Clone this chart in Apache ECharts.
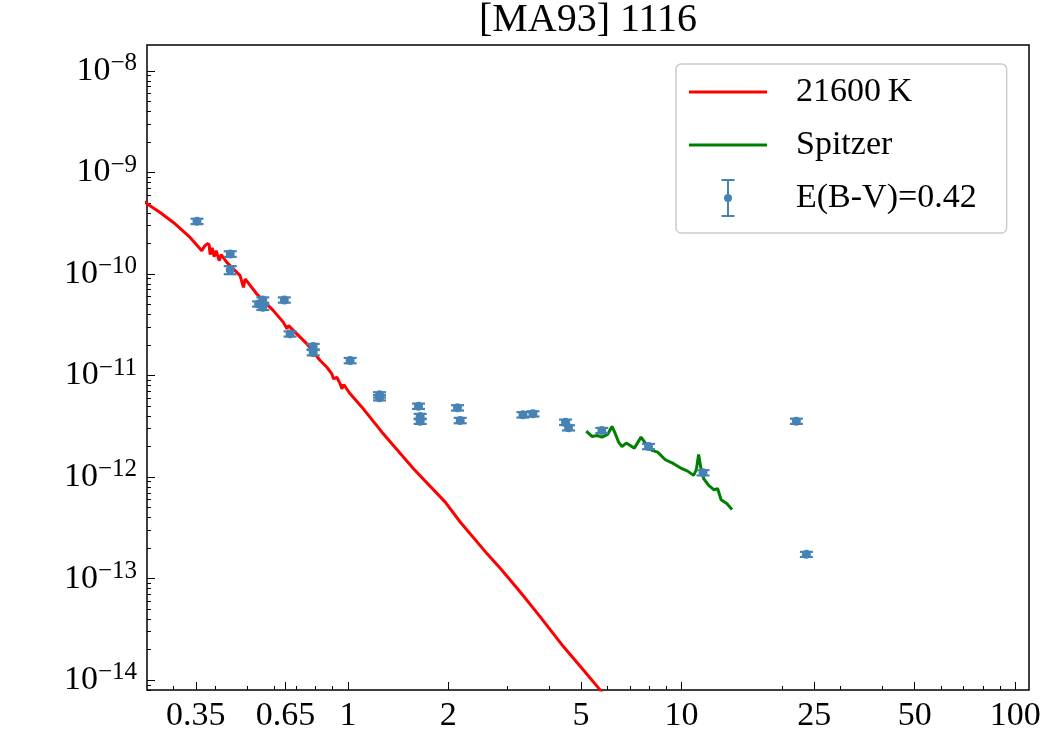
<!DOCTYPE html>
<html>
<head>
<meta charset="utf-8">
<script src="https://cdn.jsdelivr.net/npm/echarts@6/dist/echarts.min.js"></script>
<style>
  html, body { margin: 0; padding: 0; background: #fff; }
  #sed_chart { width: 1050px; height: 750px; }
</style>
</head>
<body>
<div id="sed_chart"></div>
<script>
// blackbody model, wavelength in micron
const bbWave = [0.2330, 0.2495, 0.2737, 0.3000, 0.3366, 0.3649, 0.3708, 0.3786, 0.3839, 0.3865, 0.3919,
    0.3973, 0.4029, 0.4113, 0.4170, 0.4337, 0.4754, 0.4864, 0.4921, 0.5334, 0.5981, 0.6409, 0.6566,
    0.6639, 0.7536, 0.8259, 0.8651, 0.8954, 0.9054, 0.9269, 0.9482, 0.9594, 0.9714, 1.016, 1.102,
    1.265, 1.573, 1.958, 2.171, 2.611, 2.896, 3.286, 3.772, 4.431, 5.087, 5.707, 6.55];
const bbFlux = [5.78e-10, 4.95e-10, 4.04e-10, 3.22e-10, 2.29e-10, 1.697e-10, 1.858e-10, 1.988e-10, 1.944e-10,
    1.55e-10, 1.815e-10, 1.481e-10, 1.697e-10, 1.353e-10, 1.55e-10, 1.302e-10, 9.63e-11, 7.39e-11, 8.94e-11,
    6.36e-11, 4.36e-11, 3.34e-11, 2.88e-11, 3.10e-11, 2.05e-11, 1.405e-11, 1.207e-11, 1.039e-11, 9.28e-12,
    9.62e-12, 8.29e-12, 7.40e-12, 8.16e-12, 6.61e-12, 4.88e-12, 2.77e-12, 1.209e-12, 5.67e-13, 3.61e-13,
    1.763e-13, 1.208e-13, 7.39e-14, 4.20e-14, 2.13e-14, 1.254e-14, 7.98e-15, 4.53e-15];

// Spitzer IRS spectrum
const spitzerWave = [5.182, 5.390, 5.580, 5.776, 6.003, 6.188, 6.331, 6.477, 6.631, 6.831, 7.023, 7.220,
    7.562, 7.790, 8.157, 8.480, 8.942, 9.469, 10.03, 10.43, 10.87, 11.08, 11.25, 11.44, 11.65, 12.06,
    12.49, 12.83, 13.14, 13.69, 14.17];
const spitzerFlux = [2.833e-12, 2.513e-12, 2.570e-12, 2.473e-12, 2.630e-12, 3.151e-12, 2.672e-12, 2.208e-12,
    2.003e-12, 2.158e-12, 2.049e-12, 1.928e-12, 2.473e-12, 2.158e-12, 1.830e-12, 1.761e-12, 1.482e-12,
    1.354e-12, 1.209e-12, 1.145e-12, 1.039e-12, 1.182e-12, 1.671e-12, 1.209e-12, 9.64e-13, 8.28e-13,
    7.51e-13, 7.68e-13, 5.99e-13, 5.47e-13, 4.78e-13];

// dereddened photometry
const photWave = [0.353, 0.444, 0.444, 0.540, 0.556, 0.556, 0.645, 0.671, 0.787, 0.787, 1.016, 1.244, 1.244,
    1.628, 1.647, 1.647, 2.131, 2.171, 3.347, 3.586, 4.491, 4.585, 5.77, 7.965, 11.60, 22.09, 23.67];
const photFlux = [3.30e-10, 1.575e-10, 1.095e-10, 5.07e-11, 5.55e-11, 4.70e-11, 5.55e-11, 2.57e-11, 1.93e-11,
    1.68e-11, 1.405e-11, 6.46e-12, 6.05e-12, 4.99e-12, 3.95e-12, 3.55e-12, 4.81e-12, 3.61e-12, 4.11e-12,
    4.20e-12, 3.47e-12, 3.06e-12, 2.88e-12, 2.00e-12, 1.104e-12, 3.55e-12, 1.735e-13];
const photErr = [2.0e-11, 1.0e-11, 1.0e-11, 3.0e-12, 3.3e-12, 2.8e-12, 3.3e-12, 1.5e-12, 1.2e-12, 1.0e-12,
    8.5e-13, 3.9e-13, 3.6e-13, 3.0e-13, 2.4e-13, 2.1e-13, 2.9e-13, 2.2e-13, 2.5e-13, 2.5e-13, 2.1e-13,
    1.8e-13, 1.7e-13, 1.2e-13, 6.6e-14, 2.1e-13, 1.0e-14];

const xMajorTicks = [0.35, 0.65, 1, 2, 5, 10, 25, 50, 100];
const xMinorTicks = [0.3, 0.4, 0.5, 0.6, 0.7, 0.8, 0.9, 3, 4, 6, 7, 8, 9, 20, 30, 40, 60, 70, 80, 90];
const yMajorTicks = [1e-14, 1e-13, 1e-12, 1e-11, 1e-10, 1e-9, 1e-8];
const yMinorTicks = [];
for (let p = -15; p <= -8; p++) {
    for (let k = 2; k <= 9; k++) yMinorTicks.push(k * Math.pow(10, p));
}

const FONT = '"Liberation Serif", "DejaVu Serif", serif';
const BLUE = '#4682b4';

function pairs(xs, ys) {
    return xs.map((x, i) => [x, ys[i]]);
}

function nearest(list, v) {
    let best = list[0];
    list.forEach(t => {
        if (Math.abs(Math.log(t) - Math.log(v)) < Math.abs(Math.log(best) - Math.log(v))) best = t;
    });
    return best;
}

const xRange = { min: 0.25, max: 110 };
const yRange = { min: 8e-15, max: 1.8e-8 };

function xAxisBase(ticks, len, labels) {
    return {
        type: 'log', logBase: 10, min: xRange.min, max: xRange.max, position: 'bottom',
        axisLine: { show: false },
        splitLine: { show: false },
        minorTick: { show: false },
        axisTick: { show: true, inside: true, length: len, customValues: ticks, lineStyle: { color: '#000', width: 1 } },
        axisLabel: labels ? {
            customValues: ticks, margin: 9, color: '#000', fontSize: 34, fontFamily: FONT,
            formatter: v => String(nearest(xMajorTicks, v))
        } : { show: false }
    };
}

function yAxisBase(ticks, len, labels) {
    return {
        type: 'log', logBase: 10, min: yRange.min, max: yRange.max, position: 'left',
        axisLine: { show: false },
        splitLine: { show: false },
        minorTick: { show: false },
        axisTick: { show: true, inside: true, length: len, customValues: ticks, lineStyle: { color: '#000', width: 1 } },
        axisLabel: labels ? {
            customValues: ticks, margin: 10, color: '#000', fontFamily: FONT,
            formatter: v => '{b|10}{s|\u2212' + Math.abs(Math.round(Math.log10(v))) + '}',
            rich: {
                b: { fontSize: 34, fontFamily: FONT, color: '#000', lineHeight: 40 },
                s: { fontSize: 25, fontFamily: FONT, color: '#000', verticalAlign: 'top', lineHeight: 24 }
            }
        } : { show: false }
    };
}

const LINE_ICON = 'path://M0,0H78V3H0Z';
const ERR_ICON = 'path://M0,0H13V2H7.5V36H13V38H0V36H5.5V2H0ZM10.5,19A4,4 0 1 1 2.5,19A4,4 0 1 1 10.5,19Z';

const option = {
    animation: false,
    backgroundColor: '#fff',
    title: {
        text: '[MA93] 1116',
        left: 588, top: 0, textAlign: 'center', padding: 0,
        textStyle: { fontSize: 40, fontWeight: 'normal', fontFamily: FONT, color: '#000' }
    },
    grid: {
        left: 147, right: 21, top: 45, bottom: 60,
        show: true, borderColor: '#000', borderWidth: 1.5, backgroundColor: 'transparent'
    },
    legend: {
        orient: 'vertical', left: 676, top: 64,
        padding: [9, 30, 16, 13],
        itemWidth: 78, itemHeight: 38, itemGap: 15,
        selectedMode: false,
        borderColor: '#cccccc', borderWidth: 1.5, borderRadius: 5,
        backgroundColor: 'rgba(255,255,255,0.8)',
        textStyle: { fontSize: 34, fontFamily: FONT, color: '#000', lineHeight: 38, padding: [0, 0, 0, 24] },
        data: [
            { name: '21600\u2009K', icon: LINE_ICON },
            { name: 'Spitzer', icon: LINE_ICON },
            { name: 'E(B-V)=0.42', icon: ERR_ICON }
        ]
    },
    xAxis: [xAxisBase(xMajorTicks, 8, true), xAxisBase(xMinorTicks, 4, false)],
    yAxis: [yAxisBase(yMajorTicks, 8, true), yAxisBase(yMinorTicks, 4, false)],
    series: [
        {
            name: '21600\u2009K', type: 'line', xAxisIndex: 0, yAxisIndex: 0,
            data: pairs(bbWave, bbFlux),
            symbol: 'none', showSymbol: false, clip: true,
            lineStyle: { color: '#ff0000', width: 3 },
            itemStyle: { color: '#ff0000' },
            z: 2
        },
        {
            name: 'Spitzer', type: 'line', xAxisIndex: 0, yAxisIndex: 0,
            data: pairs(spitzerWave, spitzerFlux),
            symbol: 'none', showSymbol: false, clip: true,
            lineStyle: { color: '#008000', width: 3 },
            itemStyle: { color: '#008000' },
            z: 3
        },
        {
            name: 'E(B-V)=0.42', type: 'custom', xAxisIndex: 0, yAxisIndex: 0,
            data: photWave.map((x, i) => [x, photFlux[i], photErr[i]]),
            encode: { x: 0, y: 1 },
            itemStyle: { color: BLUE },
            z: 4,
            renderItem: function (params, api) {
                const x = api.value(0), y = api.value(1), e = api.value(2);
                const c = api.coord([x, y]);
                const lo = api.coord([x, y - e]);
                const hi = api.coord([x, y + e]);
                const cap = 6.5;
                const st = { stroke: BLUE, lineWidth: 2.2 };
                return {
                    type: 'group',
                    children: [
                        { type: 'line', shape: { x1: c[0], y1: lo[1], x2: c[0], y2: hi[1] }, style: st },
                        { type: 'line', shape: { x1: c[0] - cap, y1: lo[1], x2: c[0] + cap, y2: lo[1] }, style: st },
                        { type: 'line', shape: { x1: c[0] - cap, y1: hi[1], x2: c[0] + cap, y2: hi[1] }, style: st },
                        { type: 'circle', shape: { cx: c[0], cy: c[1], r: 4.5 }, style: { fill: BLUE } }
                    ]
                };
            }
        }
    ]
};

const sedChart = echarts.init(document.getElementById('sed_chart'));
sedChart.setOption(option);

window.addEventListener('resize', function () {
    sedChart.resize();
});
</script>
</body>
</html>
